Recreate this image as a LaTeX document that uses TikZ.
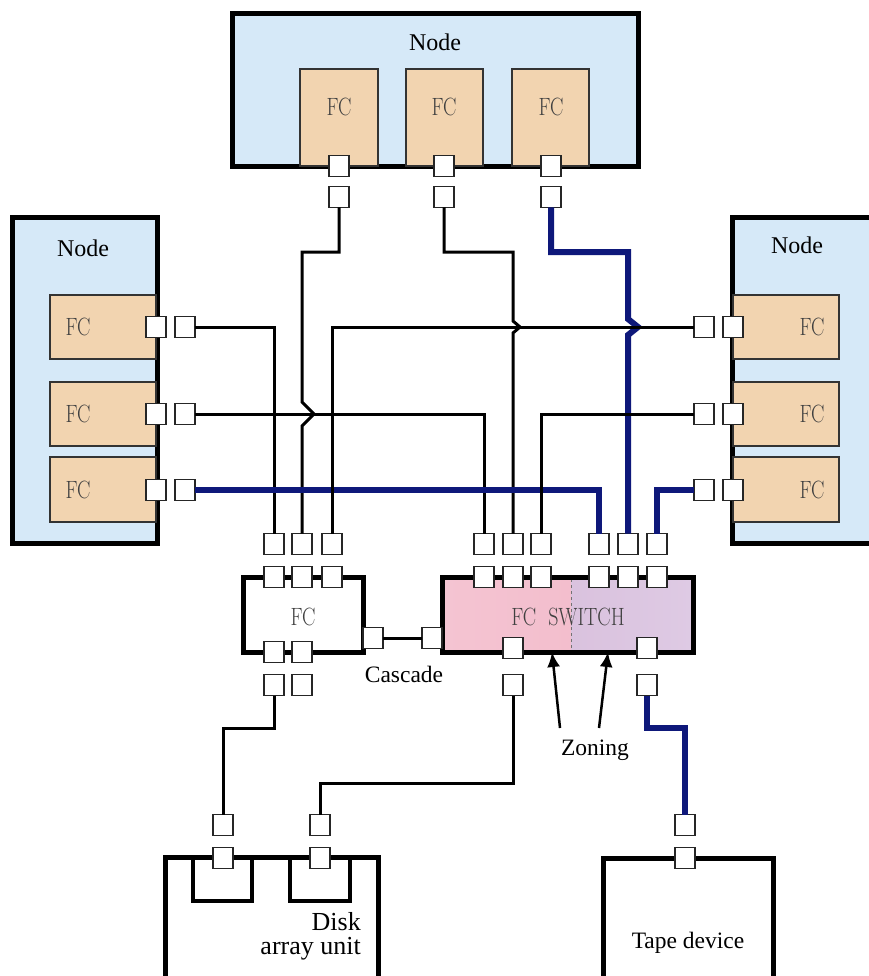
\documentclass[tikz,border=0pt]{standalone}
\usepackage{fontspec}
\newfontfamily\tms{Liberation Serif}
\usetikzlibrary{arrows.meta}
\definecolor{nodeblue}{RGB}{214,233,248}
\definecolor{cardtan}{RGB}{242,212,176}
\definecolor{navy}{RGB}{14,24,122}
\begin{document}
\begin{tikzpicture}[x=1pt,y=-1pt,
  bigbox/.style={draw=black,line width=5pt},
  card/.style={draw=black!80,line width=1.5pt,fill=cardtan},
  port/.style={draw=black!85,line width=1.3pt,fill=white,minimum width=20pt,minimum height=21pt,inner sep=0pt,outer sep=0pt},
  wire/.style={draw=black,line width=3pt,line join=miter},
  bluewire/.style={draw=navy,line width=6pt,line join=miter},
  lbl/.style={font=\tms\fontsize{23.5}{26}\selectfont,inner sep=0pt},
  nodelbl/.style={font=\tms\fontsize{24}{26}\selectfont,inner sep=0pt},
  disklbl/.style={font=\tms\fontsize{26}{24}\selectfont,inner sep=0pt,anchor=base east},
  fclbl/.style={font=\fontsize{25}{25}\selectfont,text=black!75,inner sep=0pt,xscale=0.8},
  zarrow/.style={line width=2.5pt,-{Latex[length=15pt,width=13pt]}},
]
\useasboundingbox (0,0) rectangle (869,976);
\clip (0,0) rectangle (869,976);

% ---------- node boxes ----------
\draw[bigbox,fill=nodeblue] (232,14) rectangle (638,167);
\draw[bigbox,fill=nodeblue] (12,218) rectangle (157,543);
\draw[bigbox,fill=nodeblue] (732,218) rectangle (885,543);
\node[nodelbl] (ntop) at (435,42) {Node};
\node[nodelbl] (nleft) at (83,248) {Node};
\node[nodelbl] (nright) at (797,245) {Node};

% cards
\draw[card] (300,69) rectangle (378,166);
\draw[card] (406,69) rectangle (483,166);
\draw[card] (512,69) rectangle (589,166);
\node[fclbl] (ct1) at (339,107) {FC};
\node[fclbl] (ct2) at (444,107) {FC};
\node[fclbl] (ct3) at (551,107) {FC};

\draw[card] (50,295) rectangle (156,359);
\draw[card] (50,382) rectangle (156,446);
\draw[card] (50,457) rectangle (156,522);
\node[fclbl] (cl1) at (78,327) {FC};
\node[fclbl] (cl2) at (78,414) {FC};
\node[fclbl] (cl3) at (78,490) {FC};

\draw[card] (733,295) rectangle (839,359);
\draw[card] (733,382) rectangle (839,446);
\draw[card] (733,457) rectangle (839,522);
\node[fclbl] (cr1) at (812,327) {FC};
\node[fclbl] (cr2) at (812,414) {FC};
\node[fclbl] (cr3) at (812,490) {FC};

% ---------- FC and switch ----------
\draw[bigbox,fill=white] (243,577) rectangle (363,652);
\node[fclbl] (fclabel) at (303,617) {FC};
\shade[left color={rgb,255:red,244;green,196;blue,210},middle color={rgb,255:red,236;green,160;blue,184},right color={rgb,255:red,243;green,190;blue,205}] (442,577) rectangle (571,652);
\shade[left color={rgb,255:red,218;green,194;blue,222},middle color={rgb,255:red,198;green,160;blue,202},right color={rgb,255:red,222;green,202;blue,228}] (571,577) rectangle (693,652);
\draw[black!55,line width=1pt,dashed] (571,579) -- (571,650);
\draw[bigbox] (442,577) rectangle (693,652);
\node[fclbl] (swlabel) at (568,617) {FC\ \ SWITCH};

% ---------- disk & tape ----------
\draw[bigbox,fill=white] (165,857) rectangle (378,995);
\draw[draw=black,line width=4.5pt] (193,857) -- (193,901) -- (252,901) -- (252,857);
\draw[draw=black,line width=4.5pt] (290,857) -- (290,901) -- (350,901) -- (350,857);
\node[disklbl] (disklbl1) at (361,930) {Disk};
\node[disklbl] (disklbl2) at (361,954) {array unit};
\draw[bigbox,fill=white] (603,858) rectangle (773,995);
\node[lbl] (tapelbl) at (688,943) {Tape device};

% ---------- ports ----------
\node[port] (t1a) at (339,166) {}; \node[port] (t1b) at (339,197) {};
\node[port] (t2a) at (444,166) {}; \node[port] (t2b) at (444,197) {};
\node[port] (t3a) at (551,166) {}; \node[port] (t3b) at (551,197) {};

\node[port] (l1a) at (156,327) {}; \node[port] (l1b) at (185,327) {};
\node[port] (l2a) at (156,414) {}; \node[port] (l2b) at (185,414) {};
\node[port] (l3a) at (156,490) {}; \node[port] (l3b) at (185,490) {};

\node[port] (r1a) at (733,327) {}; \node[port] (r1b) at (704,327) {};
\node[port] (r2a) at (733,414) {}; \node[port] (r2b) at (704,414) {};
\node[port] (r3a) at (733,490) {}; \node[port] (r3b) at (704,490) {};

\foreach \n/\x in {1/274,2/302,3/332} {
  \node[port] (f\n b) at (\x,544) {};
  \node[port] (f\n a) at (\x,577) {};
}
\foreach \n/\x in {1/484,2/513,3/541,4/599,5/628,6/657} {
  \node[port] (s\n b) at (\x,544) {};
  \node[port] (s\n a) at (\x,577) {};
}
\node[port] (fcc) at (373,638) {};
\node[port] (swc) at (432,638) {};
\node[port] (fd1a) at (274,652) {}; \node[port] (fd1b) at (274,685) {};
\node[port] (fd2a) at (302,652) {}; \node[port] (fd2b) at (302,685) {};
\node[port] (sd1a) at (513,648) {}; \node[port] (sd1b) at (513,685) {};
\node[port] (sd2a) at (647,648) {}; \node[port] (sd2b) at (647,685) {};
\node[port] (d1b) at (223,825) {}; \node[port] (d1a) at (223,858) {};
\node[port] (d2b) at (320,825) {}; \node[port] (d2a) at (320,858) {};
\node[port] (tpb) at (685,825) {}; \node[port] (tpa) at (685,858) {};

% ---------- wires ----------
\draw[wire] (t1b.south) -- (339,252) -- (302,252) -- (302,402) -- (314,414) -- (302,426) -- (f2b.north);
\draw[wire] (t2b.south) -- (444,252) -- (513,252) -- (513,321) -- (520,327) -- (513,333) -- (s2b.north);
\draw[bluewire] (t3b.south) -- (551,252) -- (628,252) -- (628,319) -- (638,327) -- (628,335) -- (s5b.north);
\draw[wire] (l1b.east) -- (274,327) -- (f1b.north);
\draw[wire] (l2b.east) -- (484,414) -- (s1b.north);
\draw[bluewire] (l3b.east) -- (599,490) -- (s4b.north);
\draw[wire] (r1b.west) -- (332,327) -- (f3b.north);
\draw[wire] (r2b.west) -- (541,414) -- (s3b.north);
\draw[bluewire] (r3b.west) -- (657,490) -- (s6b.north);
\draw[wire] (fcc.east) -- (swc.west);
\draw[wire] (fd1b.south) -- (274,728) -- (223,728) -- (d1b.north);
\draw[wire] (sd1b.south) -- (513,783) -- (320,783) -- (d2b.north);
\draw[bluewire] (sd2b.south) -- (647,728) -- (685,728) -- (tpb.north);

% ---------- labels & arrows ----------
\node[lbl] (cascade) at (404,674) {Cascade};
\node[lbl] (zoning) at (595,750) {Zoning};
\coordinate (z1) at (560,728);
\coordinate (z2) at (599,728);
\coordinate (zt1) at (552,652);
\coordinate (zt2) at (608,652);
\draw[zarrow] (z1) -- (zt1);
\draw[zarrow] (z2) -- (zt2);
\end{tikzpicture}
\end{document}
